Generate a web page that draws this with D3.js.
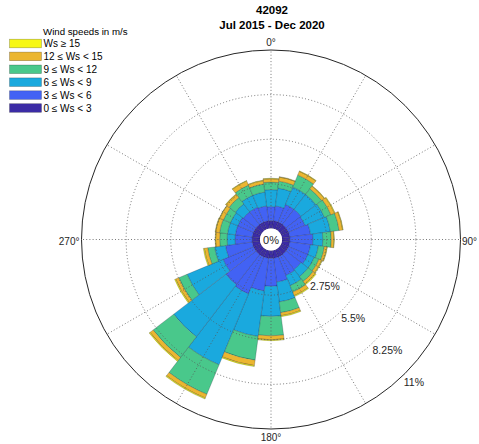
<!DOCTYPE html>
<html>
<head>
<meta charset="utf-8">
<script src="https://cdn.jsdelivr.net/npm/d3@7"></script>
<style>
  html, body { margin: 0; padding: 0; background: #fff; }
  svg { display: block; font-family: "Liberation Sans", Arial, Helvetica, sans-serif; }
</style>
</head>
<body>
<svg id="chart" width="479" height="444"></svg>
<script>
// ---- data (frequency in %, per 15° direction bin) ----
const directions = [0,15,30,45,60,75,90,105,120,135,150,165,180,195,210,225,240,255,270,285,300,315,330,345];
const speedLabels = ["0 \u2264 Ws < 3", "3 \u2264 Ws < 6", "6 \u2264 Ws < 9", "9 \u2264 Ws < 12", "12 \u2264 Ws < 15", "Ws \u2265 15"];
const freq0to3   = [0.49,0.49,0.49,0.49,0.49,0.49,0.49,0.49,0.49,0.49,0.49,0.49,0.49,0.49,0.49,0.49,0.49,0.49,0.49,0.49,0.49,0.49,0.49,0.49];
const freq3to6   = [0.86,0.92,1.17,1.17,1.11,1.29,1.42,1.29,1.29,1.17,1.23,1.48,1.72,2.03,2.46,2.34,2.03,1.66,1.05,1.05,1.05,0.99,0.99,0.92];
const freq6to9   = [1.05,1.11,1.17,1.17,1.29,1.23,0.61,0.49,0.43,0.55,0.68,1.23,1.85,2.83,4.73,4.05,2.40,0.68,0.49,0.49,0.49,0.61,0.79,0.86];
const freq9to12  = [0.46,0.43,0.80,0.43,0.43,0.55,0.52,0.37,0.31,0.37,0.43,0.67,1.20,1.47,1.97,1.60,0.55,0.43,0.46,0.49,0.46,0.49,0.68,0.50];
const freq12to15 = [0.21,0.25,0.24,0.21,0.24,0.22,0.16,0.16,0.18,0.19,0.24,0.19,0.24,0.34,0.25,0.25,0.22,0.21,0.25,0.25,0.25,0.25,0.28,0.21];
const freq15up   = [0.03,0.03,0.03,0.03,0.04,0.03,0.03,0.03,0.04,0.06,0.06,0.06,0.06,0.06,0.06,0.06,0.06,0.06,0.03,0.03,0.03,0.03,0.03,0.03];
const radialTicks = [2.75, 5.5, 8.25, 11];
const radialTickLabels = ["2.75%", "5.5%", "8.25%", "11%"];
const angleTicks = [0, 90, 180, 270];
const angleTickLabels = ["0\u00b0", "90\u00b0", "180\u00b0", "270\u00b0"];
const gridAngles = [0,30,60,90,120,150,180,210,240,270,300,330];
const titleLines = ["42092", "Jul 2015 - Dec 2020"];
const legendTitle = "Wind speeds in m/s";

// ---- layout ----
const colors = ["#3b2ba5", "#4262f4", "#1aa9de", "#49c88b", "#ebb630", "#f7f813"];
const cx = 271, cy = 239.5, R = 189.5, r0 = 11;
const binWidth = 15;

const svg = d3.select("#chart");
const rScale = d3.scaleLinear().domain([0, 11]).range([r0, R]);
const toRad = d => d * Math.PI / 180;

const series = [freq0to3, freq3to6, freq6to9, freq9to12, freq12to15, freq15up];
const rows = directions.map((dir, i) => {
  const o = { dir };
  series.forEach((s, j) => { o["b" + j] = s[i]; });
  return o;
});
const stack = d3.stack().keys(series.map((_, j) => "b" + j))(rows);

const g = svg.append("g").attr("transform", `translate(${cx},${cy})`);
const arc = d3.arc();

// bars
stack.forEach((layer, j) => {
  g.append("g").selectAll("path").data(layer).join("path")
    .attr("d", d => arc({
      innerRadius: rScale(d[0]),
      outerRadius: rScale(d[1]),
      startAngle: toRad(d.data.dir - binWidth / 2),
      endAngle: toRad(d.data.dir + binWidth / 2)
    }))
    .attr("fill", colors[j])
    .attr("stroke", "rgba(20,20,40,0.45)")
    .attr("stroke-width", 0.5);
});

// grid (dotted) on top
const grid = g.append("g");
grid.selectAll("circle.ring").data(radialTicks.slice(0, -1)).join("circle")
  .attr("r", d => rScale(d))
  .attr("fill", "none")
  .attr("stroke", "#555")
  .attr("stroke-width", 0.8)
  .attr("stroke-dasharray", "1 2.2");
grid.selectAll("line").data(gridAngles).join("line")
  .attr("x1", d => rScale(0) * Math.sin(toRad(d)))
  .attr("y1", d => -rScale(0) * Math.cos(toRad(d)))
  .attr("x2", d => R * Math.sin(toRad(d)))
  .attr("y2", d => -R * Math.cos(toRad(d)))
  .attr("stroke", "#555")
  .attr("stroke-width", 0.8)
  .attr("stroke-dasharray", "1 2.2");
g.append("circle").attr("r", rScale(11)).attr("fill", "none")
  .attr("stroke", "#262626").attr("stroke-width", 1);

// centre
g.append("circle").attr("r", r0).attr("fill", "#fff");
g.append("text").attr("x", 0).attr("y", 0).attr("text-anchor", "middle")
  .attr("dominant-baseline", "central").attr("font-size", 11).attr("fill", "#262626").text("0%");

// radial tick labels
const labAng = toRad(135.5);
g.selectAll("text.rt").data(radialTicks).join("text")
  .attr("class", "rt")
  .attr("x", d => rScale(d) * Math.sin(labAng))
  .attr("y", d => -rScale(d) * Math.cos(labAng) + 7)
  .attr("dominant-baseline", "central")
  .attr("font-size", 10.5).attr("fill", "#262626")
  .text((d, i) => radialTickLabels[i]);

// angle labels
const angPos = [
  { x: 0, y: -R - 8, anchor: "middle" },
  { x: R + 1.5, y: 1.5, anchor: "start" },
  { x: 0, y: R + 8, anchor: "middle" },
  { x: -R - 2, y: 1.5, anchor: "end" }
];
g.selectAll("text.at").data(angleTicks).join("text")
  .attr("class", "at")
  .attr("x", (d, i) => angPos[i].x)
  .attr("y", (d, i) => angPos[i].y)
  .attr("text-anchor", (d, i) => angPos[i].anchor)
  .attr("dominant-baseline", "central")
  .attr("font-size", 10).attr("fill", "#262626")
  .text((d, i) => angleTickLabels[i]);

// title
svg.selectAll("text.title").data(titleLines).join("text")
  .attr("x", 272).attr("y", (d, i) => 10 + i * 15)
  .attr("text-anchor", "middle").attr("dominant-baseline", "central")
  .attr("font-size", 11.5).attr("font-weight", "bold").attr("fill", "#000")
  .text(d => d);

// legend
const leg = svg.append("g");
leg.append("text").attr("x", 43).attr("y", 31).attr("dominant-baseline", "central")
  .attr("font-size", 9.7).attr("fill", "#000").text(legendTitle);
const legOrder = d3.range(speedLabels.length).reverse();
legOrder.forEach((j, k) => {
  const y = 43.5 + k * 12.9;
  leg.append("rect").attr("x", 9.5).attr("y", y - 4.3).attr("width", 32).attr("height", 8.6)
    .attr("fill", colors[j]).attr("stroke", "rgba(0,0,0,0.35)").attr("stroke-width", 0.6);
  leg.append("text").attr("x", 43.5).attr("y", y).attr("dominant-baseline", "central")
    .attr("font-size", 10).attr("fill", "#000").text(speedLabels[j]);
});
</script>
</body>
</html>
